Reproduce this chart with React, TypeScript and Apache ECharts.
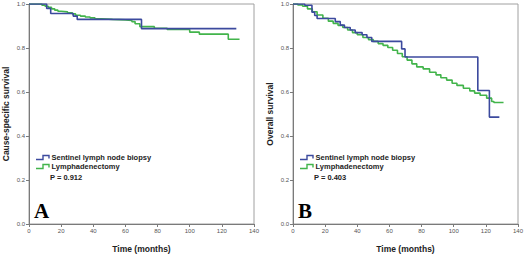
import React, { useEffect, useRef } from "react";
import * as echarts from "echarts";

// Panel A: cause-specific survival
const csSentinel: [number, number][] = [
  [0, 1], [11, 0.98], [13.5, 0.957], [27.5, 0.945], [30, 0.93], [70, 0.888], [129, 0.888],
];
const csLymph: [number, number][] = [
  [0, 1], [8, 0.995], [10, 0.99], [12, 0.985], [14, 0.978], [16, 0.972], [18, 0.967], [20, 0.964],
  [24, 0.96], [27, 0.955], [29, 0.949], [32, 0.945], [35, 0.941], [38, 0.937], [41, 0.933],
  [45, 0.93], [52, 0.928], [60, 0.925], [64, 0.92], [66, 0.91], [69, 0.897], [78, 0.89],
  [86, 0.884], [100, 0.872], [106, 0.863], [124, 0.84], [131, 0.84],
];
// Panel B: overall survival
const osSentinel: [number, number][] = [
  [0, 1], [7.3, 0.994], [11.8, 0.963], [13.5, 0.948], [15, 0.934], [26.3, 0.92], [29.4, 0.904],
  [32, 0.893], [35.6, 0.882], [38.7, 0.87], [43, 0.86], [46, 0.848], [49, 0.83], [67.6, 0.796],
  [69.7, 0.759], [115, 0.607], [122.2, 0.486], [128.4, 0.486],
];
const osLymph: [number, number][] = [
  [0, 1], [3, 0.996], [6, 0.99], [9, 0.978], [12, 0.965], [15, 0.95], [18.6, 0.935], [22, 0.922],
  [25, 0.912], [28, 0.903], [31, 0.893], [34, 0.882], [37, 0.87], [40, 0.86], [43.5, 0.848],
  [47, 0.838], [50, 0.83], [53, 0.82], [56, 0.812], [59, 0.802], [62, 0.79], [65, 0.775],
  [68, 0.76], [71, 0.745], [74, 0.728], [77, 0.714], [81, 0.705], [85, 0.69], [89, 0.678],
  [92, 0.665], [95.6, 0.654], [99, 0.64], [102, 0.63], [106, 0.617], [110, 0.605], [113, 0.595],
  [116.4, 0.585], [120.5, 0.572], [123.6, 0.557], [125, 0.552], [131, 0.552],
];

const seriesNames = ["Sentinel lymph node biopsy", "Lymphadenectomy"];
const yAxisTitles = ["Cause-specific survival", "Overall survival"];
const xAxisTitle = "Time (months)";
const pValues = ["P = 0.912", "P = 0.403"];
const panelLetters = ["A", "B"];

const BLUE = "#3c4a9e";
const GREEN = "#42b44b";
const AXIS = "#7a7a7a";

export default function App() {
  const ref = useRef<HTMLDivElement>(null);
  useEffect(() => {
    if (!ref.current) return;
    const chart = echarts.init(ref.current, undefined, { renderer: "svg" });
    const lefts = [29, 293];
    const grids = lefts.map((l) => ({
      left: l, top: 4, width: 225, height: 224, show: true,
      borderColor: "#a0a0a0", borderWidth: 1, backgroundColor: "transparent",
    }));
    const xAxes = lefts.map((_, i) => ({
      type: "value", gridIndex: i, min: 0, max: 140, interval: 20,
      name: xAxisTitle, nameLocation: "middle", nameGap: 20,
      nameTextStyle: { fontFamily: "Liberation Sans", fontWeight: "bold", fontSize: 8.5, color: "#222" },
      axisLine: { show: true, lineStyle: { color: AXIS, width: 1 } },
      axisTick: { show: true, length: 3, lineStyle: { color: AXIS } },
      axisLabel: { fontFamily: "Liberation Sans", fontSize: 6, color: "#555", margin: 4 },
      splitLine: { show: false },
    }));
    const yAxes = lefts.map((_, i) => ({
      type: "value", gridIndex: i, min: 0, max: 1, interval: 0.2,
      name: yAxisTitles[i], nameLocation: "middle", nameGap: 19, nameRotate: 90,
      nameTextStyle: { fontFamily: "Liberation Sans", fontWeight: "bold", fontSize: 8.5, color: "#222" },
      axisLine: { show: true, lineStyle: { color: AXIS, width: 1 } },
      axisTick: { show: true, length: 3, lineStyle: { color: AXIS } },
      axisLabel: { fontFamily: "Liberation Sans", fontSize: 6, color: "#555", margin: 4,
        formatter: (v: number) => v.toFixed(1) },
      splitLine: { show: false },
    }));
    const mk = (name: string, data: [number, number][], idx: number, color: string) => ({
      type: "line", name, data, xAxisIndex: idx, yAxisIndex: idx, step: "end",
      showSymbol: false, symbol: "none", lineStyle: { color, width: 1.6 },
    });
    const series = [
      mk(seriesNames[1], csLymph, 0, GREEN),
      mk(seriesNames[0], csSentinel, 0, BLUE),
      mk(seriesNames[1], osLymph, 1, GREEN),
      mk(seriesNames[0], osSentinel, 1, BLUE),
    ];
    const graphic: any[] = [];
    lefts.forEach((l, i) => {
      const ox = l - 29;
      const sym = (y: number, color: string) => ({
        type: "polyline",
        shape: { points: [[ox + 36, y + 2], [ox + 43, y + 2], [ox + 43, y - 2], [ox + 49, y - 2], [ox + 49, y + 1]] },
        style: { stroke: color, lineWidth: 1.4, fill: null },
      });
      graphic.push(sym(157.5, BLUE), sym(166.5, GREEN));
      const txt = (x: number, y: number, t: string) => ({
        type: "text", x: ox + x, y,
        style: { text: t, fontFamily: "Liberation Sans", fontWeight: "bold", fontSize: 7.5, fill: "#222",
          textVerticalAlign: "middle", verticalAlign: "middle" },
      });
      graphic.push(txt(51.5, 157.5, seriesNames[0]), txt(51.5, 166.5, seriesNames[1]), txt(50, 177.5, pValues[i]));
      graphic.push({
        type: "text", x: ox + 34, y: 221,
        style: { text: panelLetters[i], fontFamily: "Liberation Serif", fontWeight: "bold", fontSize: 21,
          fill: "#000", verticalAlign: "bottom", textVerticalAlign: "bottom" },
      });
    });
    chart.setOption({
      animation: false,
      grid: grids,
      xAxis: xAxes,
      yAxis: yAxes,
      series,
      graphic,
    } as any);
    return () => chart.dispose();
  }, []);
  return (
    <div ref={ref} style={{ position: "fixed", left: 0, top: 0, width: 528, height: 258, background: "#fff" }} />
  );
}
